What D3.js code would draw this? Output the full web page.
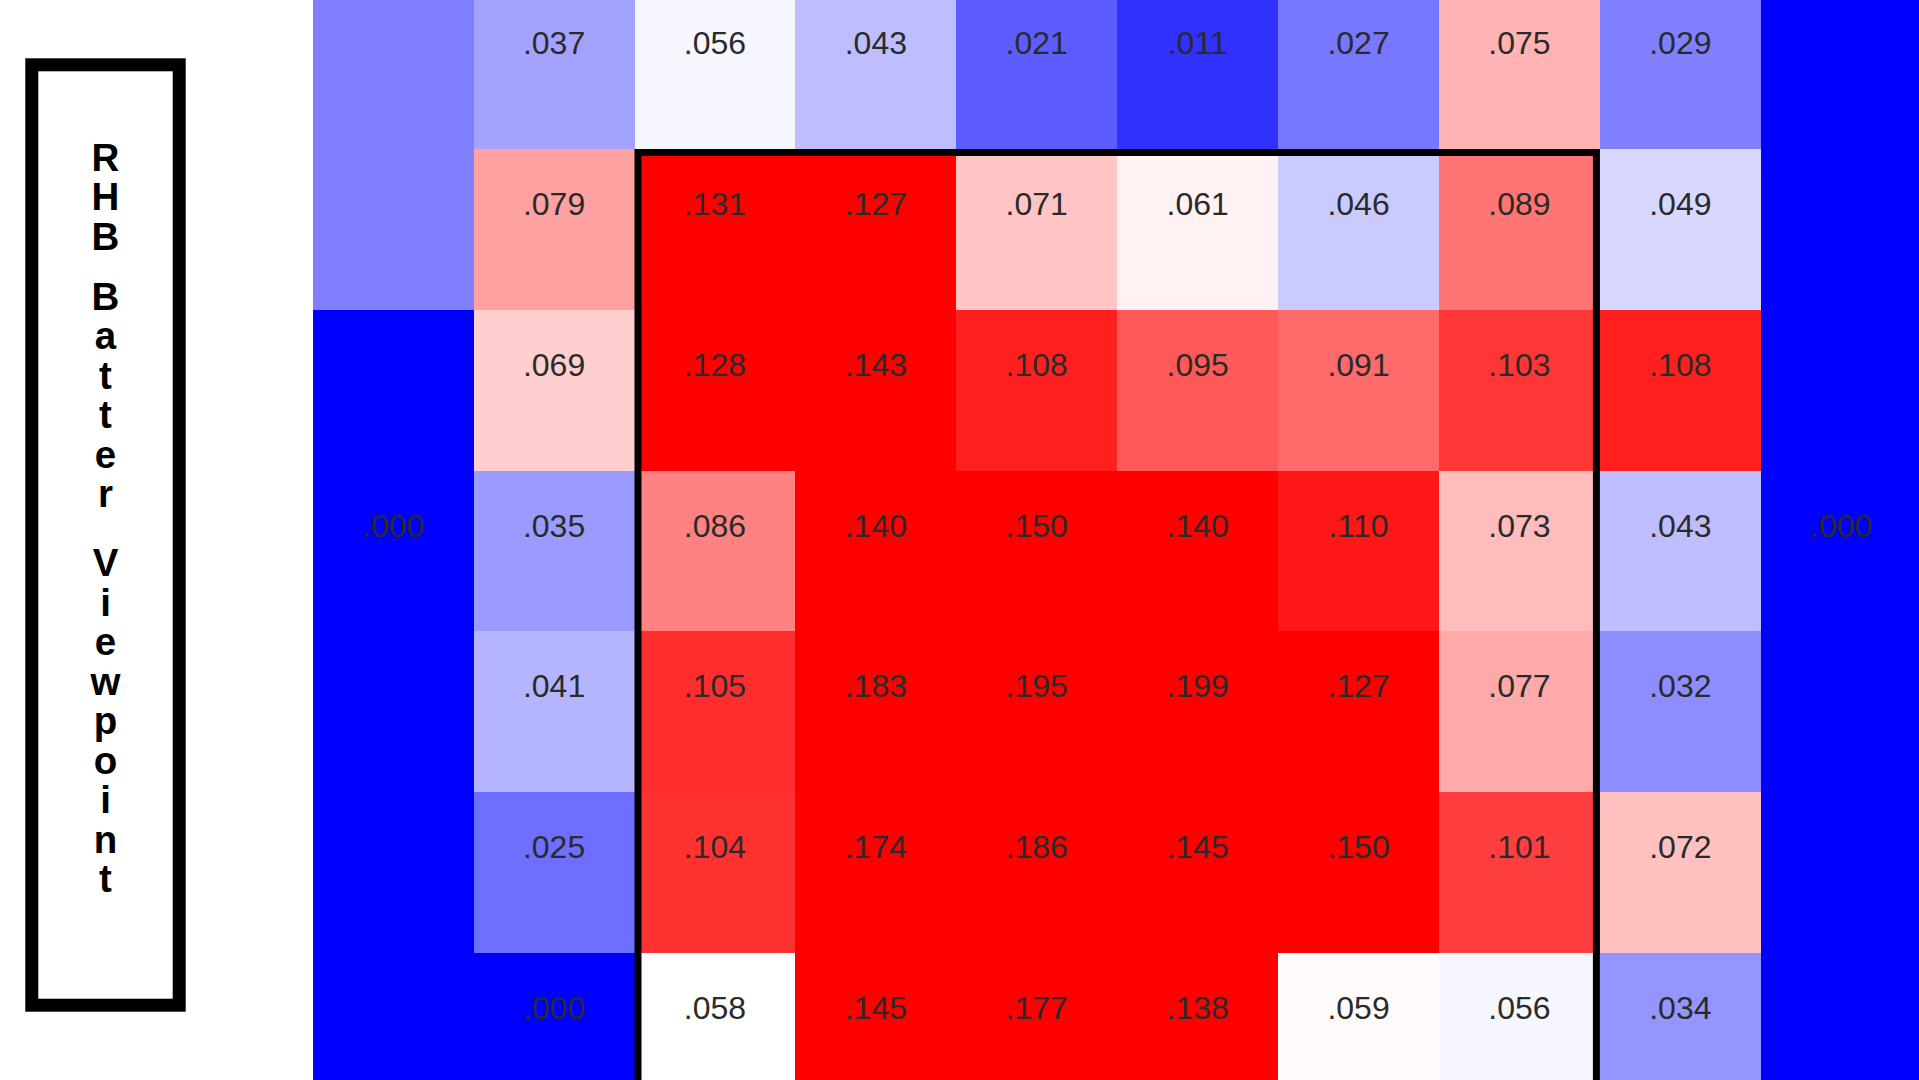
<!DOCTYPE html>
<html>
<head>
<meta charset="utf-8">
<script src="https://cdn.jsdelivr.net/npm/d3@7"></script>
<style>
  html, body { margin: 0; padding: 0; background: #ffffff; overflow: hidden; }
  svg { display: block; }
</style>
</head>
<body>
<svg id="chart" width="1919" height="1080"></svg>
<script>
// ---------- data ----------
const columns = d3.range(10);   // horizontal zones, left to right (batter viewpoint)
const rows = d3.range(7);       // vertical zones, top to bottom (visible part)

// values per zone (row by row)
const row0 = [0.029, 0.037, 0.056, 0.043, 0.021, 0.011, 0.027, 0.075, 0.029, 0.000];
const row1 = [0.029, 0.079, 0.131, 0.127, 0.071, 0.061, 0.046, 0.089, 0.049, 0.000];
const row2 = [0.000, 0.069, 0.128, 0.143, 0.108, 0.095, 0.091, 0.103, 0.108, 0.000];
const row3 = [0.000, 0.035, 0.086, 0.140, 0.150, 0.140, 0.110, 0.073, 0.043, 0.000];
const row4 = [0.000, 0.041, 0.105, 0.183, 0.195, 0.199, 0.127, 0.077, 0.032, 0.000];
const row5 = [0.000, 0.025, 0.104, 0.174, 0.186, 0.145, 0.150, 0.101, 0.072, 0.000];
const row6 = [0.000, 0.000, 0.058, 0.145, 0.177, 0.138, 0.059, 0.056, 0.034, 0.000];
const zoneValues = [row0, row1, row2, row3, row4, row5, row6];

// which zones carry a printed label (outer merged regions print it once)
const labelShown = [
  [0, 1, 1, 1, 1, 1, 1, 1, 1, 0],
  [0, 1, 1, 1, 1, 1, 1, 1, 1, 0],
  [0, 1, 1, 1, 1, 1, 1, 1, 1, 0],
  [1, 1, 1, 1, 1, 1, 1, 1, 1, 1],
  [0, 1, 1, 1, 1, 1, 1, 1, 1, 0],
  [0, 1, 1, 1, 1, 1, 1, 1, 1, 0],
  [0, 1, 1, 1, 1, 1, 1, 1, 1, 0]
];

// strike zone extent in zone indices
const strikeCols = [2, 7];
const strikeRows = [1, 6];

// colour stops: low, league-average, high
const colorDomain = [0.000, 0.058, 0.115];
const colorRange = ["#0000ff", "#ffffff", "#ff0000"];

const sideTitle = "RHB Batter Viewpoint";

// ---------- drawing ----------
const svg = d3.select("#chart");

const x = d3.scaleBand().domain(columns).range([312.7, 1921.7]).padding(0);
const y = d3.scaleBand().domain(rows).range([-11.8, 1113.8]).padding(0);
const color = d3.scaleLinear().domain(colorDomain).range(colorRange).clamp(true);
const fmt = v => d3.format(".3f")(v).replace(/^0/, "");

const cells = [];
rows.forEach(r => columns.forEach(c => {
  cells.push({ r, c, v: zoneValues[r][c], show: labelShown[r][c] === 1 });
}));

const g = svg.append("g");

g.selectAll("rect.cell")
  .data(cells)
  .join("rect")
  .attr("class", "cell")
  .attr("x", d => x(d.c))
  .attr("y", d => y(d.r))
  .attr("width", x.bandwidth() + 0.5)
  .attr("height", y.bandwidth() + 0.5)
  .attr("fill", d => color(d.v))
  .attr("shape-rendering", "crispEdges");

g.selectAll("text.val")
  .data(cells.filter(d => d.show))
  .join("text")
  .attr("class", "val")
  .attr("x", d => x(d.c) + x.bandwidth() / 2)
  .attr("y", d => y(d.r) + y.bandwidth() * 0.41)
  .attr("text-anchor", "middle")
  .attr("font-family", "'Liberation Sans', Arial, sans-serif")
  .attr("font-size", 32)
  .attr("fill", "#2a2a2a")
  .text(d => fmt(d.v));

// strike zone outline (stroke drawn inside the zone)
const sw = 7;
const szX0 = x(strikeCols[0]), szX1 = x(strikeCols[1]) + x.bandwidth();
const szY0 = y(strikeRows[0]), szY1 = y(strikeRows[1]) + y.bandwidth();
svg.append("rect")
  .attr("x", szX0 + sw / 2)
  .attr("y", szY0 + sw / 2)
  .attr("width", szX1 - szX0 - sw)
  .attr("height", szY1 - szY0 - sw)
  .attr("fill", "none")
  .attr("stroke", "#000")
  .attr("stroke-width", sw);

// side title box
const bw = 13;
svg.append("rect")
  .attr("x", 25.3 + bw / 2)
  .attr("y", 58.3 + bw / 2)
  .attr("width", 185.7 - 25.3 - bw)
  .attr("height", 1011.7 - 58.3 - bw)
  .attr("fill", "#fff")
  .attr("stroke", "#000")
  .attr("stroke-width", bw);

// stacked upright letters
const pitch = 39.5;
const spaceGaps = [20.5, 29.5];
const chars = [];
let yy = 170.5, spaceCount = 0, first = true;
for (const ch of sideTitle) {
  if (ch === " ") { yy += spaceGaps[spaceCount++] || 20; continue; }
  if (!first) yy += pitch;
  first = false;
  chars.push({ ch, y: yy });
}
svg.append("g")
  .selectAll("text")
  .data(chars)
  .join("text")
  .attr("x", 105.5)
  .attr("y", d => d.y)
  .attr("text-anchor", "middle")
  .attr("font-family", "'Liberation Sans', Arial, sans-serif")
  .attr("font-weight", "bold")
  .attr("font-size", 38.5)
  .attr("fill", "#000")
  .text(d => d.ch);
</script>
</body>
</html>
